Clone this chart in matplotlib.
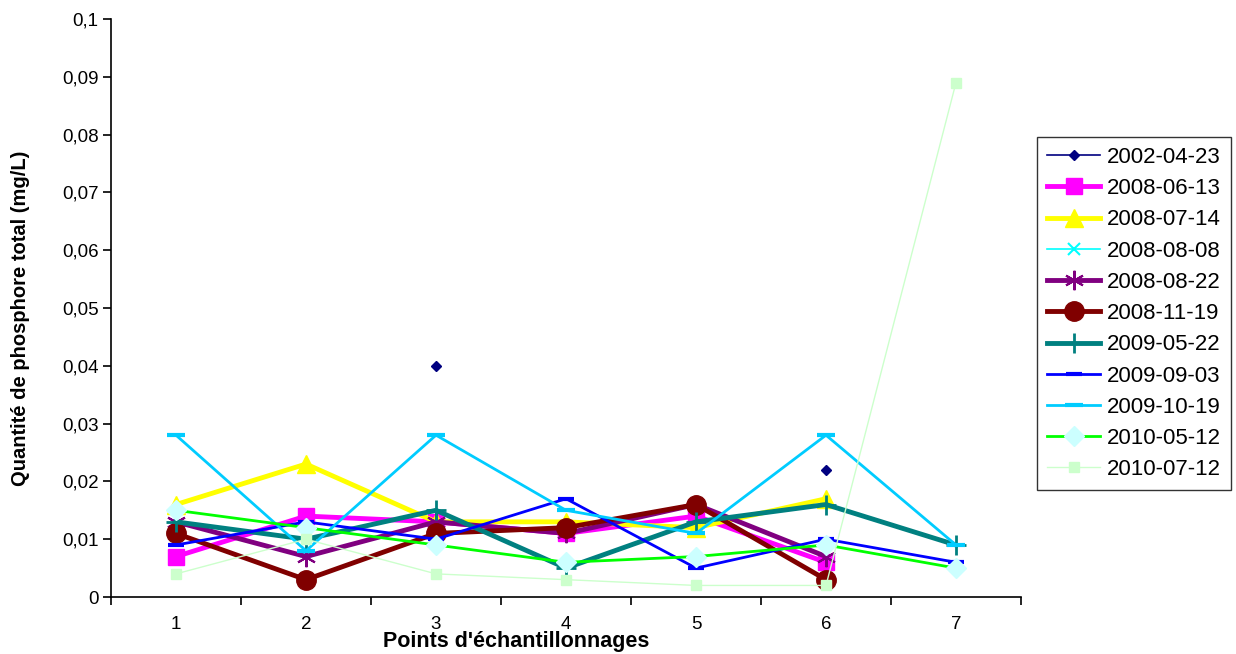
'''
phosphore total par point d'echantillonnage, une courbe par date
'''
import numpy as np
import matplotlib
matplotlib.use('Agg')
import matplotlib.pyplot as plt
from matplotlib.ticker import FuncFormatter

plt.rcParams['font.family'] = ['Liberation Sans', 'DejaVu Sans']

nan = np.nan
points = [1, 2, 3, 4, 5, 6, 7]

dates = ['2002-04-23', '2008-06-13', '2008-07-14', '2008-08-08', '2008-08-22',
         '2008-11-19', '2009-05-22', '2009-09-03', '2009-10-19', '2010-05-12',
         '2010-07-12']

p_20020423 = [nan, nan, 0.040, nan, nan, 0.022, nan]
p_20080613 = [0.007, 0.014, 0.013, 0.011, 0.014, 0.006, nan]
p_20080714 = [0.016, 0.023, 0.013, 0.013, 0.012, 0.017, nan]
p_20080808 = [nan, 0.008, nan, nan, nan, nan, nan]
p_20080822 = [0.013, 0.007, 0.013, 0.011, 0.016, 0.007, nan]
p_20081119 = [0.011, 0.003, 0.011, 0.012, 0.016, 0.003, nan]
p_20090522 = [0.013, 0.010, 0.015, 0.005, 0.013, 0.016, 0.009]
p_20090903 = [0.009, 0.013, 0.010, 0.017, 0.005, 0.010, 0.006]
p_20091019 = [0.028, 0.008, 0.028, 0.015, 0.011, 0.028, 0.009]
p_20100512 = [0.015, 0.012, 0.009, 0.006, 0.007, 0.009, 0.005]
p_20100712 = [0.004, 0.010, 0.004, 0.003, 0.002, 0.002, 0.089]

series = [p_20020423, p_20080613, p_20080714, p_20080808, p_20080822,
          p_20081119, p_20090522, p_20090903, p_20091019, p_20100512,
          p_20100712]

yticks = [0, 0.01, 0.02, 0.03, 0.04, 0.05, 0.06, 0.07, 0.08, 0.09, 0.1]

# style par serie: couleur ligne, largeur, marqueur, taille, couleur marqueur, epaisseur bord
asterisk = (6, 2, 0)
styles = [
    ('#000080', 1.2, 'D', 5, '#000080', 1),
    ('#FF00FF', 3.5, 's', 12, '#FF00FF', 1),
    ('#FFFF00', 3.5, '^', 13, '#FFFF00', 1),
    ('#00FFFF', 1.2, 'x', 8, '#00FFFF', 1.5),
    ('#800080', 3.5, asterisk, 14, '#800080', 1.5),
    ('#800000', 3.5, 'o', 14, '#800000', 1),
    ('#008080', 3.5, '+', 15, '#008080', 2),
    ('#0000FF', 2.0, '_', 11, '#0000FF', 3),
    ('#00CCFF', 2.0, '_', 13, '#00CCFF', 3),
    ('#00FF00', 2.0, 'D', 10, '#CCFFFF', 1),
    ('#CCFFCC', 1.0, 's', 7, '#CCFFCC', 1),
]

fig = plt.figure(figsize=(12.36, 6.54), dpi=100)
ax = fig.add_axes([111 / 1236, 57 / 654, 910 / 1236, 578 / 654])

for lab, vals, st in zip(dates, series, styles):
    col, lw, mk, ms, mfc, mew = st
    ax.plot(points, vals, color=col, lw=lw, marker=mk, ms=ms,
            mfc=mfc, mec=mfc, mew=mew, label=lab)

ax.set_xlim(0.5, 7.5)
ax.set_ylim(0, 0.1)
ax.set_yticks(yticks)
ax.yaxis.set_major_formatter(FuncFormatter(lambda v, p: ('%g' % round(v, 3)).replace('.', ',')))
ax.set_xticks(points)
ax.set_xticks(np.arange(0.5, 8, 1), minor=True)
ax.tick_params(axis='x', which='major', length=0, labelsize=13.5, pad=14)
ax.tick_params(axis='x', which='minor', length=6, width=1.2, direction='out')
ax.tick_params(axis='y', length=6, width=1.2, direction='out', labelsize=13.5, pad=3)

ax.spines['top'].set_visible(False)
ax.spines['right'].set_visible(False)
ax.spines['left'].set_linewidth(1.2)
ax.spines['bottom'].set_linewidth(1.2)

fig.text(21 / 1236, 1 - 318 / 654, 'Quantité de phosphore total (mg/L)', fontsize=14.5,
         fontweight='bold', rotation=90, ha='center', va='center')
fig.text(516 / 1236, 1 - 642 / 654, "Points d'échantillonnages", fontsize=15.5,
         fontweight='bold', ha='center', va='center')

leg = fig.legend(loc='upper left', bbox_to_anchor=(1037 / 1236, 1 - 137 / 654),
                 fontsize=16, frameon=True, fancybox=False, edgecolor='black',
                 handlelength=2.4, handletextpad=0.3, labelspacing=0.46,
                 borderpad=0.45, borderaxespad=0)
leg.get_frame().set_linewidth(1.0)

fig.savefig('out.png', dpi=100)
